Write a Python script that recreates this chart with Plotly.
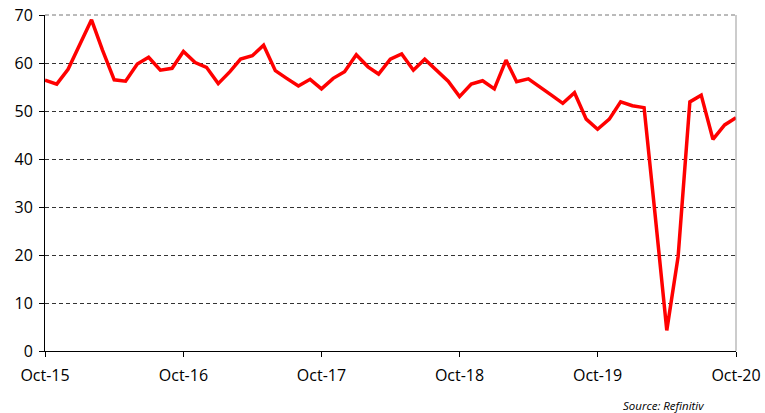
import plotly.graph_objects as go
import pandas as pd

months = pd.date_range("2015-10-01", "2020-10-01", freq="MS")
values = [56.4, 55.6, 58.7, 63.7, 69.0, 62.7, 56.5, 56.2, 59.8, 61.2, 58.5, 58.9,
          62.4, 60.1, 59.1, 55.7, 58.2, 60.8, 61.5, 63.7, 58.4, 56.8, 55.2, 56.6,
          54.6, 56.8, 58.2, 61.7, 59.2, 57.7, 60.8, 61.9, 58.5, 60.8, 58.4, 56.2,
          53.0, 55.6, 56.3, 54.6, 60.6, 56.1, 56.7, 55.1, 53.3, 51.6, 53.8, 48.3,
          46.2, 48.3, 51.9, 51.1, 50.7, 28.5, 4.3, 19.7, 51.9, 53.3, 44.1, 47.1, 48.6]
x_ticks = ["2015-10-01", "2016-10-01", "2017-10-01", "2018-10-01", "2019-10-01", "2020-10-01"]
x_tick_labels = ["Oct-15", "Oct-16", "Oct-17", "Oct-18", "Oct-19", "Oct-20"]
y_ticks = [0, 10, 20, 30, 40, 50, 60, 70]

FONT = "Open Sans, sans-serif"

fig = go.Figure()
fig.add_trace(go.Scatter(x=months, y=values, mode="lines",
                         line=dict(color="#FF0000", width=3.5), hoverinfo="skip"))

fig.update_layout(
    width=765, height=413,
    margin=dict(l=45, r=29, t=15, b=62),
    paper_bgcolor="white", plot_bgcolor="white",
    showlegend=False,
    font=dict(family=FONT, size=16, color="black"),
    xaxis=dict(
        type="date", automargin=False,
        range=["2015-10-01", "2020-10-01"],
        tickvals=x_ticks, ticktext=x_tick_labels,
        showgrid=False, zeroline=False,
        showline=True, linecolor="black", linewidth=1,
        ticks="outside", ticklen=5, tickcolor="black",
        ticklabelstandoff=5,
        tickfont=dict(family=FONT, size=16),
    ),
    yaxis=dict(
        range=[0, 70], tickvals=y_ticks, automargin=False,
        showgrid=True, gridcolor="#333333", griddash="4px,3px", gridwidth=1,
        zeroline=False,
        showline=True, linecolor="black", linewidth=1,
        ticks="outside", ticklen=5, tickcolor="black",
        ticklabelstandoff=3,
        tickfont=dict(family=FONT, size=16),
    ),
    shapes=[
        dict(type="line", xref="paper", yref="paper", x0=1, x1=1, y0=0, y1=1,
             line=dict(color="#999999", width=1)),
        dict(type="line", xref="paper", yref="paper", x0=0, x1=1, y0=1, y1=1,
             line=dict(color="#777777", width=1, dash="4px,3px")),
    ],
    annotations=[dict(text="<i>Source: Refinitiv</i>", xref="paper", yref="paper",
                      x=0.957, y=-0.161, xanchor="right", yanchor="middle", showarrow=False,
                      font=dict(family=FONT, size=11.5, color="black"))],
)

fig.write_html("out.html", config={"displayModeBar": False},
               post_script="document.body.style.margin='0px';document.body.style.overflow='hidden';")
